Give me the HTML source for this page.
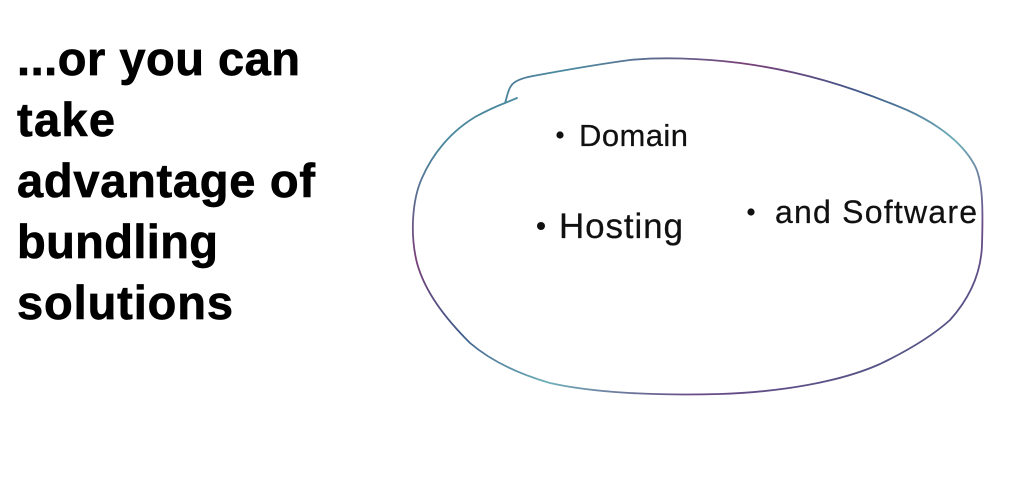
<!DOCTYPE html>
<html>
<head>
<meta charset="utf-8">
<style>
  html,body{margin:0;padding:0;background:#fff;}
  body{width:1024px;height:499px;overflow:hidden;}
  svg{display:block;}
  .h{font-family:"Liberation Sans",Arial,sans-serif;font-weight:bold;font-size:47px;fill:#000;stroke:#000;stroke-width:0.7px;}
  .b{font-family:"Liberation Sans",Arial,sans-serif;fill:#111;stroke:#111;stroke-width:0.25px;}
</style>
</head>
<body>
<svg width="1024" height="499" viewBox="0 0 1024 499" xmlns="http://www.w3.org/2000/svg">
  <defs>
    <linearGradient id="g1" x1="0" y1="0" x2="1" y2="1">
      <stop offset="0" stop-color="#5a3f7a"/>
      <stop offset="0.15" stop-color="#4a8aa0"/>
      <stop offset="0.3" stop-color="#7a3f78"/>
      <stop offset="0.45" stop-color="#3d5a8a"/>
      <stop offset="0.6" stop-color="#6fb0b8"/>
      <stop offset="0.75" stop-color="#6a4a86"/>
      <stop offset="1" stop-color="#3e5e88"/>
    </linearGradient>
  </defs>
  <rect width="1024" height="499" fill="#fff"/>

  <!-- Heading -->
  <text class="h" x="17" y="75" textLength="283" lengthAdjust="spacing">...or you can</text>
  <text class="h" x="17" y="136" textLength="98" lengthAdjust="spacing">take</text>
  <text class="h" x="17" y="197" textLength="298" lengthAdjust="spacing">advantage of</text>
  <text class="h" x="17" y="258" textLength="201" lengthAdjust="spacing">bundling</text>
  <text class="h" x="17" y="319" textLength="216" lengthAdjust="spacing">solutions</text>

  <!-- Hand-drawn ellipse -->
  <path fill="none" stroke="url(#g1)" stroke-width="1.8" stroke-linejoin="round" stroke-linecap="round"
    d="M517,98 L505,103
       C507,97 508,90 511,86
       C514,81 522,78 533,76
       C560,71 600,64 630,60
       C660,57 700,58 740,63
       C800,71 850,86 907,110
       C940,125 965,145 976,168
       C983,185 983,210 982,245
       C981,275 968,300 950,320
       C930,338 905,352 880,364
       C840,382 780,392 720,394
       C650,396 590,392 550,383
       C515,373 490,360 470,343
       C445,318 425,292 417,263
       C410,235 412,200 422,178
       C432,155 450,132 475,117
       C488,110 497,106 505,103"/>

  <!-- Bullets -->
  <circle cx="560" cy="135" r="3.6" fill="#111"/>
  <text class="b" x="579" y="146" font-size="31" textLength="109" lengthAdjust="spacing">Domain</text>

  <circle cx="541" cy="226" r="4" fill="#111"/>
  <text class="b" x="559" y="238" font-size="35" textLength="124" lengthAdjust="spacing">Hosting</text>

  <circle cx="751" cy="212" r="3.6" fill="#111"/>
  <text class="b" x="775" y="223" font-size="32" textLength="202" lengthAdjust="spacing">and Software</text>
</svg>
</body>
</html>
